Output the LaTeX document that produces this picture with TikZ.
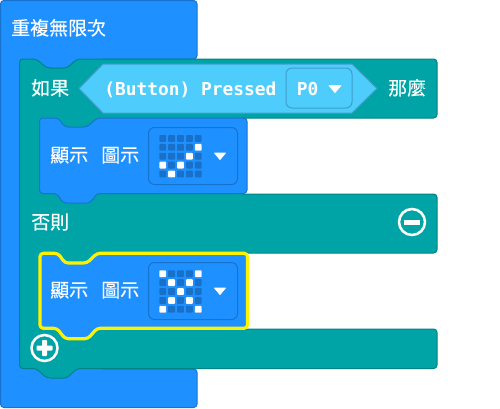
\documentclass[tikz,border=0pt]{standalone}
\usepackage{fontspec}
\newfontfamily\cjk[FakeBold=0.25]{Noto Sans CJK TC}
\newfontfamily\monof{DejaVu Sans Mono}
\definecolor{blk}{HTML}{1E90FF}
\definecolor{blkline}{HTML}{1873CC}
\definecolor{ledoff}{HTML}{1870C8}
\definecolor{teal2}{HTML}{00A4A6}
\definecolor{tealline}{HTML}{008384}
\definecolor{sky}{HTML}{4ECCFC}
\definecolor{skyline}{HTML}{3E9FCA}
\definecolor{hilite}{HTML}{FFF200}
\tikzset{
  lab/.style={text=white,inner sep=0pt,anchor=base west,font=\cjk\fontsize{14.2}{15}\selectfont},
  mono/.style={text=white,inner sep=0pt,anchor=base west,font=\monof\bfseries\fontsize{13.4}{14}\selectfont},
  blockshape/.style={fill=blk,draw=blkline,line width=.75pt,rounded corners=2.5pt,line join=round},
  tealshape/.style={fill=teal2,draw=tealline,line width=.75pt,rounded corners=2.5pt,line join=round},
  imgbox/.style={fill=blk,draw=blkline,line width=.75pt,rounded corners=4.5pt},
  ddtri/.style={fill=white,draw=white,line width=.6pt,line join=round},
  ring/.style={draw=white,line width=1.9pt,fill=none},
}
\newcommand{\ledgrid}[3]{%
  \foreach \c in {0,...,4}\foreach \r in {0,...,4}
    \fill[ledoff,rounded corners=.6pt] ({#1+8.9*\c},{#2+8.9*\r}) rectangle +(6.8,6.8);
  \foreach \c/\r in {#3}
    \fill[white,rounded corners=.6pt] ({#1+8.9*\c},{#2+8.9*\r}) rectangle +(6.8,6.8);
}
\begin{document}
\begin{tikzpicture}[x=.75pt,y=-.75pt]
\useasboundingbox (0,0) rectangle (500,408);
% outer forever block
\path[blockshape] (.5,.5)--(197,.5)--(197,59)--(100,59)--(100,369)--(197,369)--(197,407.5)--(.5,407.5)--cycle;
% if/else block
\path[tealshape] (19.5,59)--(36,59)--(47,68)--(67,68)--(77,59)--(437,59)--(437,118)--(240,118)--(240,194)--(437,194)--(437,253)--(240,253)--(240,329)--(437,329)--(437,368.5)--(77,368.5)--(67,378)--(47,378)--(36,368.5)--(19.5,368.5)--cycle;
% condition hexagon
\path[fill=sky,draw=skyline,line width=.75pt,line join=round] (79,88.5)--(103,64)--(352,64)--(377,88.5)--(352,113)--(103,113)--cycle;
\path[fill=sky,draw=skyline,line width=.75pt,rounded corners=4.5pt] (286,68) rectangle (352,108);
\path[ddtri] (329,85.5)--(341,85.5)--(335,92.5)--cycle;
% first show block
\path[blockshape] (39.5,118)--(58,118)--(65,127)--(87,127)--(97,118)--(247,118)--(247,193.5)--(97,193.5)--(90,203)--(63,203)--(57,193.5)--(39.5,193.5)--cycle;
\path[imgbox] (148.5,127.5) rectangle (237.5,184.5);
\ledgrid{159.3}{135}{4/1,3/2,0/3,2/3,1/4}
\path[ddtri] (214.5,153)--(225.5,153)--(220,159.5)--cycle;
% second show block (highlighted)
\path[blockshape,draw=hilite,line width=2.4pt] (40,253.3)--(58,253.3)--(65,263)--(87,263)--(97,253.3)--(247.5,253.3)--(247.5,328.3)--(97,328.3)--(88,338.7)--(65,338.7)--(57,328.3)--(40,328.3)--cycle;
\path[imgbox] (148.5,262.5) rectangle (237.5,319.5);
\ledgrid{159.3}{270.3}{0/0,4/0,1/1,3/1,2/2,1/3,3/3,0/4,4/4}
\path[ddtri] (214.5,288)--(225.5,288)--(220,294.5)--cycle;
% texts
\node[lab] (forever) at (11,35) {重複無限次};
\node[lab] (ifw) at (31,95) {如果};
\node[mono] (cond) at (104,95) {(Button) Pressed};
\node[mono] (pin) at (296.5,95) {P0};
\node[lab] (then) at (388,95) {那麼};
\node[lab] (showa) at (50,162) {顯示};
\node[lab] (imga) at (101,162) {圖示};
\node[lab] (elsew) at (31,229) {否則};
\node[lab] (showb) at (50,297) {顯示};
\node[lab] (imgb) at (101,297) {圖示};
% minus / plus buttons
\draw[ring] (412,222) circle (13);
\fill[white] (404,219.5) rectangle (420,224.5);
\draw[ring] (44.5,348) circle (13);
\fill[white,rounded corners=.6pt] (36.5,345.5) rectangle (52.5,350.5);
\fill[white,rounded corners=.6pt] (42,340) rectangle (47,356);
\end{tikzpicture}
\end{document}
